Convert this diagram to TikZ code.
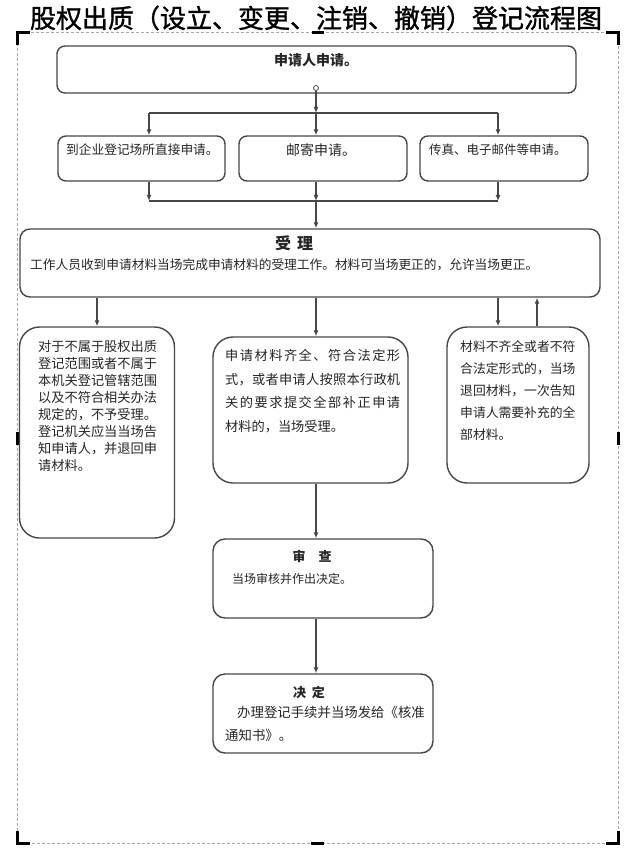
\documentclass[tikz,border=0pt]{standalone}
\usepackage{fontspec}
\setmainfont{Noto Sans CJK SC}
\usetikzlibrary{arrows.meta}
\definecolor{lineg}{HTML}{474747}
\definecolor{txtc}{HTML}{262626}
\definecolor{framec}{HTML}{A8A8A8}
\def\jend{}
\def\jline#1#2{\hbox to #1{\jaux#2\jend}}
\def\jaux#1{\ifx#1\jend\else#1\expandafter\jnext\fi}
\def\jnext#1{\ifx#1\jend\else\hfil#1\expandafter\jnext\fi}
\begin{document}
\begin{tikzpicture}[x=1pt,y=-1pt,
  box/.style={draw=lineg, line width=1.4pt, fill=white, inner sep=0pt},
  arr/.style={draw=lineg, line width=1.2pt, -{Latex[length=6pt,width=5pt]}},
  plain/.style={draw=lineg, line width=1.2pt},
  txt/.style={text=txtc, inner sep=0pt, align=left},
  cornermark/.style={draw=black, line width=3pt},
  framestyle/.style={draw=framec, line width=1pt, dash pattern=on 3pt off 2pt}]
\useasboundingbox (0,0) rectangle (631,850);

% frame
\draw[framestyle] (17,33) rectangle (618,843);
\draw[cornermark] (17,45) -- (17,33) -- (30,33);
\draw[cornermark] (606,33) -- (618,33) -- (618,45);
\draw[cornermark] (17,831) -- (17,843) -- (30,843);
\draw[cornermark] (606,843) -- (618,843) -- (618,831);
\draw[cornermark] (312,33) -- (324,33);
\draw[cornermark] (311,843) -- (324,843);
\draw[cornermark] (17,432) -- (17,445);
\draw[cornermark] (618,432) -- (618,445);

% title
\node[inner sep=0pt, text=black, font=\fontsize{26}{28}\selectfont\addfontfeature{FakeBold=1.2}] (title) at (316,18) {股权出质（设立、变更、注销、撤销）登记流程图};

% boxes
\node[box, rounded corners=8pt, minimum width=519pt, minimum height=47pt] (apply) at (316.5,69.5) {};
\node[box, rounded corners=8pt, minimum width=167pt, minimum height=45pt] (b1) at (141.5,158.5) {};
\node[box, rounded corners=8pt, minimum width=168pt, minimum height=45pt] (b2) at (323,158.5) {};
\node[box, rounded corners=8pt, minimum width=168pt, minimum height=45pt] (b3) at (504,158.5) {};
\node[box, rounded corners=10pt, minimum width=580pt, minimum height=68pt] (accept) at (310,263) {};
\node[box, rounded corners=20pt, minimum width=155pt, minimum height=211pt] (left) at (97,432.5) {};
\node[box, rounded corners=20pt, minimum width=195pt, minimum height=146pt] (middle) at (310.5,410) {};
\node[box, rounded corners=20pt, minimum width=142pt, minimum height=156pt] (right) at (518,405) {};
\node[box, rounded corners=12pt, minimum width=220pt, minimum height=79pt] (review) at (323,578.5) {};
\node[box, rounded corners=12pt, minimum width=220pt, minimum height=79pt] (decide) at (323,713.5) {};

% texts
\node[txt, font=\fontsize{14}{16}\selectfont\bfseries] (applyt) at (316,60) {申请人申请。};
\node[txt, anchor=west, font=\fontsize{12.7}{15}\selectfont] (b1t) at (66,150) {到企业登记场所直接申请。};
\node[txt, anchor=west, font=\fontsize{14}{16}\selectfont] (b2t) at (286,150) {邮寄申请。};
\node[txt, anchor=west, font=\fontsize{12.5}{15}\selectfont] (b3t) at (429,150) {传真、电子邮件等申请。};
\node[txt, font=\fontsize{16}{18}\selectfont\bfseries] (acceptt) at (294,243) {受\hspace{6pt}理};
\node[txt, anchor=west, font=\fontsize{12.7}{15}\selectfont] (acceptd) at (30,265) {工作人员收到申请材料当场完成申请材料的受理工作。材料可当场更正的，允许当场更正。};
\node[txt, anchor=north west, font=\fontsize{13.2}{17}\selectfont] (leftt) at (38,340.4) {对于不属于股权出质\\登记范围或者不属于\\本机关登记管辖范围\\以及不符合相关办法\\规定的，不予受理。\\登记机关应当当场告\\知申请人，并退回申\\请材料。};
\node[txt, anchor=north west, font=\fontsize{13.2}{23.5}\selectfont] (middlet) at (225,349.4) {\jline{175pt}{申请材料齐全、符合法定形}\\\jline{175pt}{式，或者申请人按照本行政机}\\\jline{175pt}{关的要求提交全部补正申请}\\\jline{115pt}{材料的，当场受理。}};
\node[txt, anchor=north west, font=\fontsize{12.8}{22}\selectfont] (rightt) at (460,340.6) {材料不齐全或者不符\\合法定形式的，当场\\退回材料，一次告知\\申请人需要补充的全\\部材料。};
\node[txt, font=\fontsize{13}{15}\selectfont\bfseries] (reviewt) at (312,556) {审\hspace{13pt}查};
\node[txt, anchor=west, font=\fontsize{12}{14}\selectfont] (reviewd) at (232,579) {当场审核并作出决定。};
\node[txt, font=\fontsize{13}{15}\selectfont\bfseries] (decidet) at (309,692) {决\hspace{6pt}定};
\node[txt, anchor=north west, font=\fontsize{13.4}{23}\selectfont] (decided) at (225,706.3) {\hspace{12pt}办理登记手续并当场发给《核准\\通知书》。};

% connectors
\coordinate (jtop) at (316,113);
\coordinate (jl) at (149,113);
\coordinate (jr) at (498,113);
\coordinate (ml) at (149,201);
\coordinate (mm) at (316,201);
\coordinate (mr) at (498,201);
\coordinate (xl) at (97,0);
\coordinate (xm) at (316,0);
\coordinate (xr) at (498,0);
\coordinate (xu) at (537,0);

\node[circle, draw=lineg, line width=0.8pt, minimum size=5pt, inner sep=0pt, fill=white] (dot) at (316,88) {};
\draw[arr] (dot) -- (jtop);
\draw[plain] (jl) -- (jr);
\draw[arr] (jl) -- (jl |- b1.north);
\draw[arr] (jtop) -- (jtop |- b2.north);
\draw[arr] (jr) -- (jr |- b3.north);
\draw[arr] (jl |- b1.south) -- (ml);
\draw[arr] (jtop |- b2.south) -- (mm);
\draw[arr] (jr |- b3.south) -- (mr);
\draw[plain] (ml) -- (mr);
\draw[arr] (mm) -- (mm |- accept.north);

\draw[arr] (accept.south -| xl) -- (left.north -| xl);
\draw[arr] (accept.south -| xm) -- (middle.north -| xm);
\draw[arr] (accept.south -| xr) -- (right.north -| xr);
\draw[arr] (right.north -| xu) -- (accept.south -| xu);
\draw[arr] (middle.south -| xm) -- (review.north -| xm);
\draw[arr] (review.south -| xm) -- (decide.north -| xm);
\end{tikzpicture}
\end{document}
